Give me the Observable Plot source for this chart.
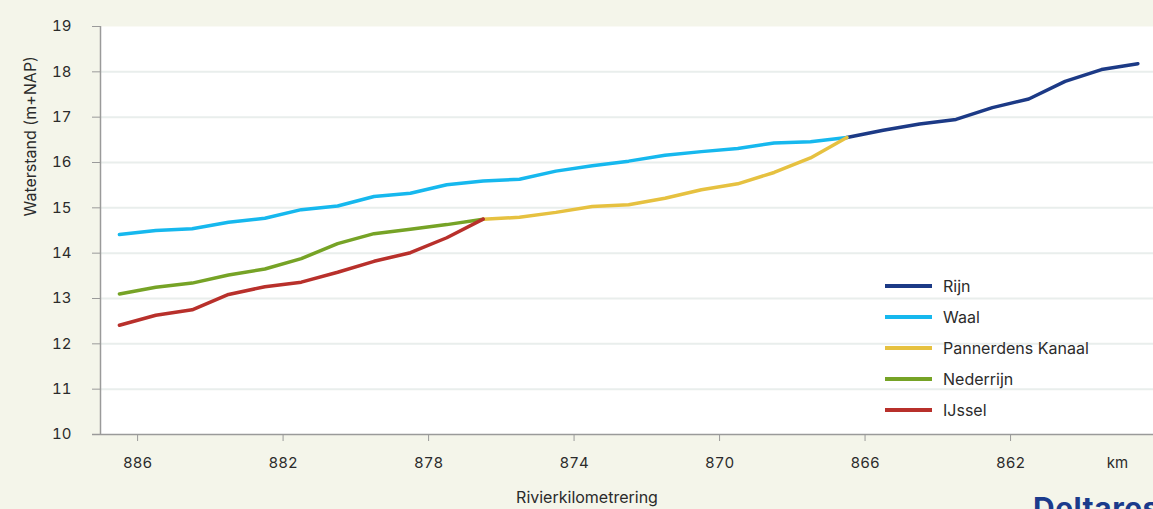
<!DOCTYPE html>
<html>
<head>
<meta charset="utf-8">
<script src="https://cdn.jsdelivr.net/npm/d3@7"></script>
<script src="https://cdn.jsdelivr.net/npm/@observablehq/plot@0.6"></script>
<style>
  body { margin: 0; background: #f4f5ea; overflow: hidden; font-family: Inter, "Noto Sans", sans-serif; }
  #wrap { position: relative; width: 1153px; height: 509px; overflow: hidden; }
  #legend { position: absolute; left: 885px; top: 270px; font-size: 16px; color: #2b2b2b; }
  .row { display: flex; align-items: center; height: 31px; }
  .sw { width: 47px; height: 4px; margin-right: 11px; }
  #logo { position: absolute; left: 1033px; top: 493px; font-size: 30px; font-weight: 700; color: #1b3b8c; line-height: 30px; letter-spacing: 0.5px; }
</style>
</head>
<body>
<div id="wrap">
  <div id="chart"></div>
  <div id="legend"></div>
  <div id="logo">Deltares</div>
</div>
<script>
// ---- data (river km, water level m+NAP) ----
const seriesNames = ["Rijn", "Waal", "Pannerdens Kanaal", "Nederrijn", "IJssel"];
const seriesColors = ["#1c3a86", "#16b8ee", "#e6c140", "#76a326", "#b8302b"];

const rijnKm = [866.5, 865.5, 864.5, 863.5, 862.5, 861.5, 860.5, 859.5, 858.5];
const rijnLevel = [16.55, 16.71, 16.85, 16.95, 17.21, 17.40, 17.79, 18.05, 18.18];

const waalKm = [886.5, 885.5, 884.5, 883.5, 882.5, 881.5, 880.5, 879.5, 878.5, 877.5, 876.5,
                875.5, 874.5, 873.5, 872.5, 871.5, 870.5, 869.5, 868.5, 867.5, 866.5];
const waalLevel = [14.41, 14.50, 14.54, 14.68, 14.77, 14.96, 15.04, 15.25, 15.32, 15.51, 15.59,
                   15.63, 15.81, 15.93, 16.03, 16.16, 16.24, 16.31, 16.43, 16.46, 16.55];

const pkKm = [876.5, 875.5, 874.5, 873.5, 872.5, 871.5, 870.5, 869.5, 868.5, 867.5, 866.5];
const pkLevel = [14.75, 14.79, 14.90, 15.03, 15.07, 15.21, 15.40, 15.53, 15.78, 16.10, 16.55];

const nedKm = [886.5, 885.5, 884.5, 883.5, 882.5, 881.5, 880.5, 879.5, 878.5, 877.5, 876.5];
const nedLevel = [13.10, 13.25, 13.34, 13.52, 13.65, 13.88, 14.21, 14.43, 14.53, 14.63, 14.75];

const ijsselKm = [886.5, 885.5, 884.5, 883.5, 882.5, 881.5, 880.5, 879.5, 878.5, 877.5, 876.5];
const ijsselLevel = [12.41, 12.63, 12.75, 13.09, 13.26, 13.36, 13.58, 13.82, 14.01, 14.34, 14.75];

const xTicks = [886, 882, 878, 874, 870, 866, 862];
const yTicks = [10, 11, 12, 13, 14, 15, 16, 17, 18, 19];
const gridTicks = [11, 12, 13, 14, 15, 16, 17, 18];
const xDomain = [887.02, 858.07];
const yDomain = [10, 19];
const kmUnitAt = [859.06];

// ---- build table ----
const kmLists = [rijnKm, waalKm, pkKm, nedKm, ijsselKm];
const levelLists = [rijnLevel, waalLevel, pkLevel, nedLevel, ijsselLevel];
const data = [];
seriesNames.forEach((name, i) => {
  kmLists[i].forEach((km, j) => data.push({river: name, km, level: levelLists[i][j]}));
});

const chart = Plot.plot({
  width: 1153,
  height: 509,
  marginLeft: 100,
  marginRight: 0,
  marginTop: 26,
  marginBottom: 75,
  style: {background: "transparent", fontFamily: "Inter, 'Noto Sans', sans-serif", fontSize: "15px", color: "#2b2b2b"},
  x: {domain: xDomain, axis: null, label: null},
  y: {domain: yDomain, axis: null, label: null},
  color: {domain: seriesNames, range: seriesColors},
  marks: [
    Plot.frame({fill: "white", stroke: null}),
    Plot.ruleY(gridTicks, {stroke: "#e9eeec", strokeWidth: 2}),
    Plot.ruleX([xDomain[0]], {stroke: "#9a9a9a", strokeWidth: 1.5}),
    Plot.ruleY([yDomain[0]], {stroke: "#9a9a9a", strokeWidth: 1.5, insetLeft: -8}),
    Plot.axisY({ticks: yTicks, tickSize: 8, tickPadding: 21, stroke: "#9a9a9a", fill: "#2b2b2b", label: null, tickFormat: d => String(d)}),
    Plot.axisX({ticks: xTicks, tickSize: 7, tickPadding: 16, stroke: "#9a9a9a", fill: "#2b2b2b", label: null, tickFormat: d => String(d)}),
    Plot.axisX(kmUnitAt, {tickSize: 0, tickPadding: 23, fill: "#2b2b2b", label: null, tickFormat: () => "km"}),
    Plot.text(["Waterstand (m+NAP)"], {frameAnchor: "left", rotate: -90, dx: -70, dy: -14, fontSize: 16, fill: "#2b2b2b"}),
    Plot.text(["Rivierkilometrering"], {frameAnchor: "bottom", lineAnchor: "middle", dx: -40, dy: 63, fontSize: 16, fill: "#2b2b2b"}),
    Plot.line(data, {x: "km", y: "level", z: "river", stroke: "river", strokeWidth: 3.5, strokeLinejoin: "round"})
  ]
});
document.getElementById("chart").appendChild(chart);

const legend = document.getElementById("legend");
seriesNames.forEach((name, i) => {
  const row = document.createElement("div");
  row.className = "row";
  row.innerHTML = `<div class="sw" style="background:${seriesColors[i]}"></div><span>${name}</span>`;
  legend.appendChild(row);
});
</script>
</body>
</html>
